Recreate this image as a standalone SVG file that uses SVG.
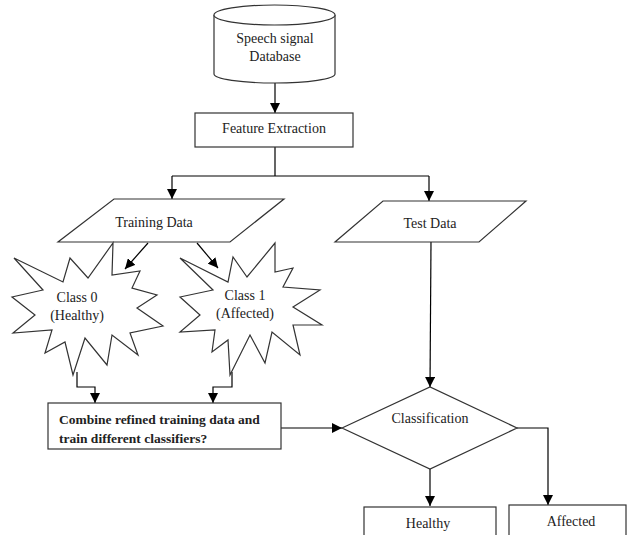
<svg xmlns="http://www.w3.org/2000/svg" width="627" height="535" viewBox="0 0 627 535">
<defs>
<marker id="ah" markerUnits="userSpaceOnUse" markerWidth="10" markerHeight="10" refX="10" refY="5" orient="auto" viewBox="0 0 10 10">
<path d="M0,0 L10,5 L0,10 Z" fill="#000"/>
</marker>
</defs>
<style>
.s{fill:#fff;stroke:#333;stroke-width:1.2}
.c{fill:none;stroke:#000;stroke-width:1.2}
.t{font-family:"Liberation Serif","Times New Roman",serif;font-size:14px;fill:#222;text-anchor:middle}
.b{font-family:"Liberation Serif","Times New Roman",serif;font-size:13.5px;font-weight:bold;fill:#222}
</style>
<rect width="627" height="535" fill="#fff"/>
<g id="connectors">
<path class="c" d="M275,83 L275,113" marker-end="url(#ah)"/>
<path class="c" d="M275,147 L275,176 M172,176 L429,176"/>
<path class="c" d="M172,176 L172,199" marker-end="url(#ah)"/>
<path class="c" d="M429,176 L429,201" marker-end="url(#ah)"/>
<path class="c" d="M148,243 L125,269" marker-end="url(#ah)"/>
<path class="c" d="M197,243 L218,268" marker-end="url(#ah)"/>
<path class="c" d="M77,372 L77,387 L95,387 L95,403" marker-end="url(#ah)"/>
<path class="c" d="M232,372 L232,387 L213,387 L213,403" marker-end="url(#ah)"/>
<path class="c" d="M431,242 L430,387" marker-end="url(#ah)"/>
<path class="c" d="M281,428 L342,428" marker-end="url(#ah)"/>
<path class="c" d="M430,469 L430,506" marker-end="url(#ah)"/>
<path class="c" d="M517,428 L548,428 L548,505" marker-end="url(#ah)"/>
</g>
<g id="database">
<path class="s" d="M214,15 L214,74 A60.5,9 0 0 0 335,74 L335,15"/>
<ellipse class="s" cx="274.5" cy="15" rx="60.5" ry="10"/>
<text class="t" x="275" y="43">Speech signal</text>
<text class="t" x="275" y="61">Database</text>
</g>
<g id="feature">
<rect class="s" x="195" y="113" width="158" height="34"/>
<text class="t" x="274" y="133">Feature Extraction</text>
</g>
<g id="training">
<polygon class="s" points="114,199 284,199 230,242 58,242"/>
<text class="t" x="154" y="227">Training Data</text>
</g>
<g id="test">
<polygon class="s" points="383,201 526,201 479,242 335,242"/>
<text class="t" x="430" y="228">Test Data</text>
</g>
<g id="class0">
<polygon class="s" points="14,258 63,282 70,258 88,278 113,243 112,275 140,271 132,288 157,295 137,308 163,326 130,333 138,355 112,335 107,365 85,338 73,375 65,342 45,353 52,330 13,333 35,315 12,297 43,290"/>
<text class="t" x="77" y="302">Class 0</text>
<text class="t" x="77" y="320">(Healthy)</text>
</g>
<g id="class1">
<polygon class="s" points="180,258 228,282 233,257 247,277 275,243 275,272 293,268 283,287 320,290 293,307 322,325 293,325 300,355 272,332 265,363 250,335 230,375 228,340 212,352 215,330 180,332 200,315 180,297 213,290"/>
<text class="t" x="245" y="300">Class 1</text>
<text class="t" x="245" y="318">(Affected)</text>
</g>
<g id="combine">
<rect class="s" x="48" y="403" width="233" height="46"/>
<text class="b" x="59" y="424">Combine refined training data and</text>
<text class="b" x="59" y="443">train different classifiers?</text>
</g>
<g id="classification">
<polygon class="s" points="342,428 430,387 517,428 430,469"/>
<text class="t" x="430" y="423">Classification</text>
</g>
<g id="healthy">
<rect class="s" x="364" y="507" width="132" height="40"/>
<text class="t" x="428" y="528">Healthy</text>
</g>
<g id="affected">
<rect class="s" x="509" y="505" width="117" height="42"/>
<text class="t" x="571" y="526">Affected</text>
</g>
</svg>
